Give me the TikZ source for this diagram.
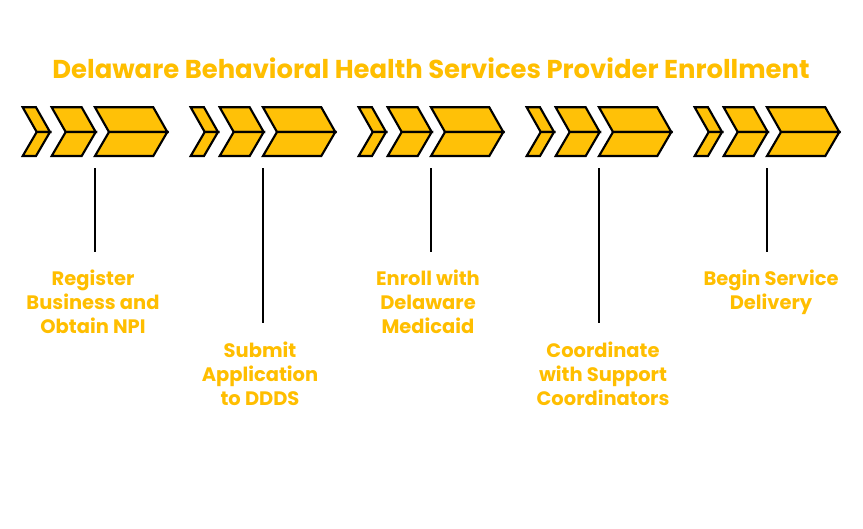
\documentclass[tikz,border=0pt]{standalone}
\usepackage{fontspec}
\setmainfont{Poppins}
\definecolor{gold}{RGB}{255,193,7}
\definecolor{goldtext}{RGB}{255,190,0}
\tikzset{
  chevpart/.style={fill=gold,draw=black,line width=1.6pt},
  stem/.style={draw=black,line width=1.3pt},
  lbl/.style={text=goldtext,font=\bfseries\fontsize{14.6}{18}\selectfont,align=center,anchor=north,inner sep=0pt},
  ttl/.style={text=goldtext,font=\bfseries\fontsize{19.4}{22}\selectfont,inner sep=0pt}
}
\newcommand\chevpiece[2]{%
  \path[chevpart] (#1,107.3) -- ++(#2,0) -- ++(14,24.7) -- ++(-#2,0) -- cycle;
  \path[chevpart] (#1+14,132) -- ++(#2,0) -- ++(-14,24) -- ++(-#2,0) -- cycle;
}
\begin{document}
\begin{tikzpicture}[x=0.75pt,y=-0.75pt]
\useasboundingbox (0,0) rectangle (863,528);
\node[ttl] (title) at (431,68) {Delaware Behavioral Health Services Provider Enrollment};
\foreach \i/\g in {0/22.7,1/190.7,2/358.7,3/526.7,4/694.7}{
  \chevpiece{\g}{13.3}
  \chevpiece{\g+29}{30}
  \chevpiece{\g+72.3}{58.3}
}
\coordinate (s1) at (95,168);
\coordinate (s2) at (263,168);
\coordinate (s3) at (431,168);
\coordinate (s4) at (599,168);
\coordinate (s5) at (767,168);
\coordinate (e1) at (95,252);
\coordinate (e2) at (263,323);
\coordinate (e3) at (431,252);
\coordinate (e4) at (599,323);
\coordinate (e5) at (767,252);
\node[lbl] (l1) at (93,270) {Register\\Business and\\Obtain NPI};
\node[lbl] (l2) at (260,342) {Submit\\Application\\to DDDS};
\node[lbl] (l3) at (428,270) {Enroll with\\Delaware\\Medicaid};
\node[lbl] (l4) at (603,342) {Coordinate\\with Support\\Coordinators};
\node[lbl] (l5) at (771,270) {Begin Service\\Delivery};
\foreach \k in {1,...,5}{ \draw[stem] (s\k) -- (e\k); }
\end{tikzpicture}
\end{document}
